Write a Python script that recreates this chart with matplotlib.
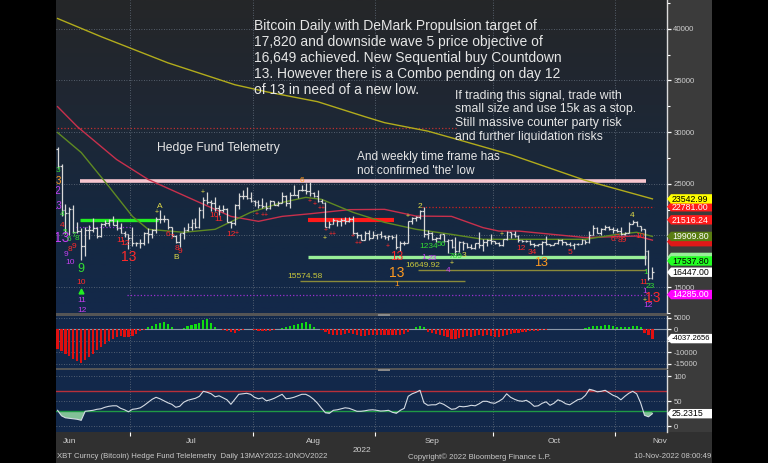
import matplotlib

matplotlib.use("Agg")

import matplotlib.pyplot as plt  # noqa: E402
import matplotlib.transforms as mtransforms  # noqa: E402
import numpy as np  # noqa: E402
import pandas as pd  # noqa: E402
from matplotlib.colors import LinearSegmentedColormap  # noqa: E402
from matplotlib.patches import Polygon, Rectangle  # noqa: E402

plt.rcParams["font.family"] = ["Liberation Sans", "DejaVu Sans"]

# ---------------- data (XBT daily, 12 Jun - 10 Nov 2022) ----------------
START = pd.Timestamp("2022-06-12")
FIRST_OPEN = 28360

highs = [
    # Jun 12-30
    28540, 26880, 23000, 22760, 22980, 21330, 20760, 20780, 20990, 21700,
    20860, 21210, 21520, 21580, 21850, 21480, 21170, 20400, 20140,
    # Jul
    20860, 19400, 19640, 20300, 20680, 20640, 21800, 22470, 21950, 21600,
    20870, 20040, 20250, 20860, 21190, 21560, 21650, 22750, 23750, 24230,
    23400, 23730, 22980, 22990, 22650, 21360, 23080, 24130, 24400, 24650, 24180,
    # Aug
    23470, 23440, 23620, 23200, 23440, 23330, 23380, 24230, 23900, 24200,
    24890, 24440, 24890, 25050, 25200, 24250, 24430, 23580, 23200, 21370,
    21680, 21530, 21650, 21800, 21800, 21860, 20340, 20140, 20390, 20500, 20450,
    # Sep
    20190, 20420, 20000, 20000, 20050, 20140, 19440, 19440, 21440, 21800,
    21840, 22480, 22790, 20540, 20330, 19880, 20180, 20120, 19640, 19620,
    19900, 19490, 19490, 19310, 19180, 19300, 20340, 19680, 19640, 20170,
    # Oct
    19460, 19400, 19700, 20450, 20360, 20440, 20050, 19600, 19540, 19520,
    19250, 19210, 19500, 19950, 19210, 19320, 19650, 19690, 19350, 19340,
    19230, 19250, 19680, 19590, 20400, 20990, 20850, 20720, 21060, 20900, 20820,
    # Nov 1-10
    20680, 20790, 20380, 21280, 21460, 21360, 20900, 20670, 18590, 16950,
]
lows = [
    26560, 21930, 20100, 20070, 20230, 20250, 17600, 17990, 19670, 20360,
    19800, 19900, 20900, 20930, 20980, 20560, 20200, 19870, 18650,
    19000, 18990, 18780, 19050, 19320, 19800, 20260, 21230, 21320, 20670,
    19930, 19250, 18920, 19670, 20400, 20500, 20760, 20770, 21680, 23000,
    22400, 22360, 21950, 22290, 21260, 20730, 21050, 22590, 23530, 23520, 23230,
    22860, 22700, 22700, 22460, 22600, 22920, 22850, 23150, 22890, 22700,
    23880, 23600, 24300, 24060, 23800, 23700, 23200, 23120, 20800, 20760,
    21080, 20910, 20940, 21140, 21320, 20110, 19800, 19520, 19600, 19550, 19800,
    19640, 19760, 19650, 19600, 19650, 18700, 18540, 19050, 19300, 21130,
    21370, 21560, 19870, 19640, 19540, 19400, 19700, 19350, 18270, 18800,
    18150, 18360, 18600, 18820, 18650, 18680, 18830, 18510, 18980, 19180,
    19160, 18950, 19000, 19560, 19760, 19870, 19330, 19330, 19330, 19080,
    18900, 19000, 18190, 19080, 18980, 19070, 19160, 19100, 19090, 18940,
    18680, 19110, 19130, 19160, 19300, 20060, 20230, 20030, 20560, 20520, 20230,
    20340, 20060, 20060, 20200, 21100, 20880, 20400, 17170, 15680, 15800,
]
closes = [
    26760, 22490, 22200, 22580, 20380, 20470, 19010, 20550, 20580, 20720,
    19970, 21080, 21230, 21500, 21030, 20730, 20250, 20100, 19780,
    19300, 19250, 19300, 20230, 20190, 20560, 21620, 21590, 21590, 20850,
    19960, 19330, 20210, 20570, 20830, 21190, 20790, 22430, 23400, 23230,
    23150, 22680, 22460, 22580, 21310, 21250, 22950, 23850, 23780, 23640, 23300,
    23280, 22990, 22820, 22620, 23310, 22950, 23180, 23810, 23160, 23950,
    23940, 24400, 24440, 24300, 24100, 23850, 23340, 23190, 20830, 21140,
    21520, 21400, 21530, 21370, 21560, 20240, 20040, 19550, 20290, 19800, 20050,
    20130, 19950, 19830, 19990, 19810, 18840, 19290, 19320, 21380, 21650,
    21830, 22400, 20180, 20240, 19700, 19800, 20120, 19420, 19540, 18880,
    18480, 19410, 19300, 18930, 18800, 19230, 19080, 19410, 19590, 19430,
    19310, 19060, 19630, 20340, 20160, 19960, 19530, 19420, 19450, 19130,
    19060, 19150, 19380, 19180, 19070, 19270, 19550, 19330, 19130, 19040,
    19160, 19210, 19570, 19330, 20080, 20770, 20290, 20590, 20820, 20630, 20490,
    20480, 20150, 20210, 21140, 21300, 20900, 20600, 18540, 15880, 16447,
]

# moving averages, read at a few points (day offset from 12 Jun, price)
ma_yellow_days = [0, 11, 28, 45, 53, 66, 78, 83, 94, 101, 115, 134, 151]
ma_yellow_vals = [41000, 39250, 36710, 34590, 33910, 32950, 31500, 30920, 30100,
                  29350, 27830, 25330, 23543]
ma_red_days = [0, 5, 15, 23, 36, 44, 51, 57, 64, 74, 83, 91, 100, 108, 112, 117, 134, 147, 151]
ma_red_vals = [32470, 30540, 27350, 25420, 23200, 21850, 21370, 21850, 22100, 22500,
               22530, 21880, 21850, 20760, 20430, 20430, 19800, 19950, 19550]
ma_olive_days = [0, 6, 13, 19, 23, 32, 40, 49, 57, 63, 67, 75, 83, 91, 100, 108, 134, 142, 147, 151]
ma_olive_vals = [29960, 28030, 24750, 21850, 20600, 20310, 20600, 22240, 23200, 23690,
                 23500, 22240, 21270, 20600, 20110, 19630, 19630, 20110, 20310, 19910]

# MACD histogram (daily)
macd_hist = [
    -8400, -9600, -10600, -11600, -12800, -13800, -14700, -13200, -12000, -10600,
    -9100, -7700, -6200, -5200, -4100, -3400, -2900, -3400, -3500, -2900,
    -1900, -900, -200,
    1000, 1500, 2200, 2900, 3200, 2300, 800, 100, 100, 600, 1400, 2000, 2200,
    2800, 3900, 4300, 2600, 1000,
    0, -300, -600, -1300, -1400, -600, -100, 300, 200, -100, -600, -800, -900,
    -800, -400, 200,
    600, 900, 1300, 1800, 2500, 2800, 3200, 2200, 900,
    100, -400, -1200, -1900, -2600, -2600, -2300, -2000, -1800, -1900, -2600,
    -2700, -2700, -2600, -2600, -2500, -2500, -2500, -2600, -2500, -2400, -2400,
    -2000, -1000,
    300, 1000, 1500, 800,
    -1200, -1500, -1900, -2300, -2900, -3400, -4000, -4300, -3800, -3400, -3000,
    -3300, -3000, -2600, -2900, -2600, -2900, -3300, -3300, -2900, -2600, -2000,
    -1800, -1500, -1200, -1200, -900, -900, -900, -300,
    -100, 0, 100, 100, 100, 100, 100, 200, 200, 300, 400,
    1000, 1300, 1500, 1600, 1700, 1700, 1500, 1000, 800, 900, 1200, 1500, 1500, 1200,
    -1500, -2500, -4037.2656,
]

# RSI (daily)
rsi = [
    32, 21, 17, 16, 15, 14, 12, 30, 31, 32, 34, 35, 38, 40, 41, 41, 36, 33, 29,
    34, 35, 37, 42, 48, 54, 58, 55, 51, 47, 44, 38, 40, 48, 52, 54, 56, 60, 70,
    68, 65, 59, 61, 57, 53, 44, 54, 64, 65, 66, 64,
    58, 55, 57, 51, 53, 56, 60, 64, 55, 56, 58, 61, 64, 64, 60, 54, 46, 36, 27,
    26, 32, 33, 35, 37, 36, 33, 30, 30, 31, 32.5, 33,
    32, 30.5, 31, 32, 28, 26, 32, 36, 60, 65, 68, 72, 47, 42, 43, 43, 47, 44, 39,
    34, 35, 40, 39, 40, 42, 41, 45, 50, 50, 47,
    46, 50, 55, 65, 58, 54, 51, 50, 52, 47, 40, 41, 46, 49, 42, 46, 53, 50, 45,
    43, 48, 53, 55, 62, 74, 72, 69, 70, 72, 67, 62,
    59, 53, 60, 66, 70, 65, 47, 22, 19, 25.2315,
]

# horizontal levels: (price, first day, last day, colour, width, style)
levels = [
    (25230, 6, 149, "#f8c6cf", 2.6, "-"),
    (21460, 6, 25, "#22ee22", 2.4, "-"),
    (21516.24, 64, 85, "#ff1a1a", 3.0, "-"),
    (17880, 64, 149, "#98ee98", 2.4, "-"),
    (15574.58, 62, 103, "#8a8a3a", 1.0, "-"),
    (16649.92, 92, 149, "#8a8a3a", 1.0, "-"),
    (22781.00, 93, 151, "#d02020", 0.9, ":"),
    (30440, -0.4, 101, "#c03030", 0.9, ":"),
    (14285.00, 18, 151.5, "#9b30d0", 0.9, ":"),
    (20790, 5, 18.5, "#9b30d0", 0.9, ":"),
]

# right-hand value tags: (value, face colour, text, text colour)
price_tags = [
    (17880, "#98ee98", "", "black"),
    (19400, "#e01818", "", "white"),
    (22781.00, "#ff1a1a", "22781.00", "white"),
    (23542.99, "#ffff00", "23542.99", "black"),
    (21516.24, "#ff1a1a", "21516.24", "white"),
    (19909.80, "#5a7d12", "19909.80", "white"),
    (17537.80, "#22ff22", "17537.80", "black"),
    (16447.00, "#ffffff", "16447.00", "black"),
    (14285.00, "#ff00ff", "14285.00", "white"),
]

R, G, P, O, Y = "#ff2a2a", "#33dd33", "#c43ff0", "#ff9a20", "#e2dc48"
# DeMark count labels: (day offset, price, text, colour, size)
td_labels = [
    (0.1, 26290, "3", G, 6), (0.1, 25230, "3", O, 7), (-0.4, 24260, "12", P, 7),
    (-0.2, 22820, "13", P, 7), (1.1, 22040, "4", G, 6), (1.1, 20980, "4", R, 6),
    (1.9, 20310, "5", G, 6), (1.1, 19730, "13", P, 10), (2.9, 19630, "6", G, 6),
    (4.2, 20020, "7", G, 6), (4.9, 19730, "8", G, 6), (3.2, 18670, "8", R, 6),
    (4.2, 18960, "9", R, 6), (2.1, 18180, "9", P, 6), (3.2, 17410, "10", P, 6),
    (6.0, 16740, "9", G, 9), (6.0, 15480, "10", R, 6), (6.2, 13750, "11", P, 6),
    (6.2, 12700, "12", P, 6), (26.0, 22820, "A", Y, 6), (25.2, 22240, "+", Y, 5),
    (16.1, 19540, "11", R, 6), (17.1, 19250, "12", R, 6), (18.1, 17900, "13", R, 10),
    (28.0, 20110, "6", R, 6), (29.0, 19830, "7", R, 6), (30.3, 18760, "8", R, 6),
    (31.1, 18470, "9", R, 6), (30.0, 17900, "B", Y, 6), (39.7, 21950, "10", R, 6),
    (41.0, 21560, "11", R, 6), (44.0, 20110, "12", R, 6), (45.4, 20200, "+", R, 5),
    (36.9, 24170, "+", Y, 5), (50.6, 22040, "+", R, 5), (52.6, 21900, "++", R, 5),
    (62.0, 25330, "6", O, 6), (64.0, 23300, "+", R, 5), (65.3, 23010, "+", R, 5),
    (67.0, 22620, "++", R, 5), (68.1, 20500, "+", R, 5), (67.9, 19730, "+", Y, 5),
    (69.9, 20110, "++", R, 5), (75.0, 19920, "+", R, 5), (76.5, 19250, "++", R, 5),
    (83.9, 18960, "+", R, 5), (86.1, 17900, "13", R, 8.5), (86.1, 16350, "13", O, 10),
    (86.1, 15290, "1", O, 6), (92.0, 22820, "2", Y, 6), (88.9, 21850, "+", Y, 5),
    (94.2, 18960, "1234", G, 6), (97.4, 19150, "56", G, 6), (93.0, 17900, "1", P, 6),
    (95.0, 17800, "23", P, 6), (101.0, 17990, "789", G, 6), (103.2, 18100, "3", Y, 6),
    (100.1, 17320, "+", Y, 5), (99.1, 16640, "4", P, 6), (112.8, 20110, "+", Y, 5),
    (117.6, 18760, "12", R, 6), (120.5, 18380, "34", R, 6), (122.7, 17320, "13", O, 9),
    (130.0, 18380, "5", R, 6), (141.0, 19630, "6", R, 6), (141.9, 19830, "7", R, 6),
    (143.3, 19530, "89", R, 6), (145.8, 21950, "4", Y, 6), (147.8, 19950, "10", R, 6),
    (149.3, 16450, "1", G, 6), (148.8, 15450, "11", R, 6), (150.4, 15070, "23", G, 6),
    (149.0, 14550, "1", P, 6), (151.0, 13910, "13", R, 10), (149.0, 13680, "+", Y, 5),
    (149.9, 13200, "12", P, 6),
]

month_names = ["Jun", "Jul", "Aug", "Sep", "Oct", "Nov"]
month_label_dates = ["2022-06-15", "2022-07-16", "2022-08-16", "2022-09-15",
                     "2022-10-16", "2022-11-12"]

# axis ticks; labels hidden under the value tags in the original are left blank
price_ticks = [15000, 20000, 25000, 30000, 35000, 40000]
price_hidden = [20000]
macd_ticks = [5000, 0, -5000, -10000, -15000]
macd_hidden = [-5000]
rsi_ticks = [0, 50, 100]

# ---------------- layout ----------------
W, H = 768, 463
BAR = "#d9d9d9"
GRID = "#66717f"
TICK_TXT = "#cfcfcf"


def fig_box(x0, y0, x1, y1):
    return [x0 / W, 1 - y1 / H, (x1 - x0) / W, (y1 - y0) / H]


fig = plt.figure(figsize=(W / 100, H / 100), dpi=100, facecolor="black")
for box, col in [((667, 0, 712, 463), "#3b3b3b"), ((56, 432, 712, 463), "#303030"),
                 ((56, 313, 667, 316), "#555555"), ((56, 368, 667, 370), "#555555")]:
    x, y, w, h = fig_box(*box)
    fig.add_artist(Rectangle((x, y), w, h, transform=fig.transFigure,
                             facecolor=col, edgecolor="none", zorder=-1))
for y0 in (313, 368):
    x, y, w, h = fig_box(378, y0 + 0.5, 390, y0 + 2.5)
    fig.add_artist(Rectangle((x, y), w, h, transform=fig.transFigure,
                             facecolor="#8a8a8a", edgecolor="none", zorder=5))

ax = fig.add_axes(fig_box(56, 0, 667, 313))
ax_macd = fig.add_axes(fig_box(56, 316, 667, 368))
ax_rsi = fig.add_axes(fig_box(56, 370, 667, 432))

n = len(closes)
days = np.arange(n)
dates = pd.date_range(START, periods=n, freq="D")
month_starts = [i - 0.5 for i, d in enumerate(dates) if d.day == 1]
label_pos = [(pd.Timestamp(d) - START).days for d in month_label_dates]

bg = LinearSegmentedColormap.from_list("bg", ["#13284a", "#16283f", "#1f2733", "#252628"])
ax.imshow(np.linspace(0, 1, 256).reshape(-1, 1), extent=[0, 1, 0, 1], origin="lower",
          transform=ax.transAxes, cmap=bg, aspect="auto", zorder=0)
for a in (ax_macd, ax_rsi):
    a.set_facecolor("#12284a")

for a in (ax, ax_macd, ax_rsi):
    for s in ("top", "left", "bottom"):
        a.spines[s].set_visible(False)
    a.spines["right"].set_color("#dcdcdc")
    a.spines["right"].set_linewidth(1.0)
    a.yaxis.tick_right()
    a.tick_params(axis="y", colors="white", labelcolor=TICK_TXT, labelsize=5.6,
                  length=3, width=0.9, pad=1.5)
    a.tick_params(axis="x", bottom=False, labelbottom=False)
    for m in month_starts:
        a.axvline(m, color=GRID, lw=0.6, ls=(0, (1, 2)), zorder=1)
    a.set_xlim(-0.4, 154.7)

# ---------------- price panel ----------------
for yv in price_ticks:
    ax.axhline(yv, color=GRID, lw=0.6, ls=(0, (1, 2)), zorder=1)

ax.plot(ma_yellow_days, ma_yellow_vals, color="#b2ac1c", lw=1.0, zorder=3)
ax.plot(ma_red_days, ma_red_vals, color="#c8304c", lw=1.0, zorder=3)
ax.plot(ma_olive_days, ma_olive_vals, color="#5f8a22", lw=1.0, zorder=3)

for price, d0, d1, col, lw, ls in levels:
    ax.hlines(price, d0 - 0.4, d1 + 0.4, color=col, lw=lw, ls=ls, zorder=2)

opens = [FIRST_OPEN] + closes[:-1]
ax.vlines(days, lows, highs, color=BAR, lw=0.9, zorder=4)
ax.hlines(opens, days - 0.45, days, color=BAR, lw=0.9, zorder=4)
ax.hlines(closes, days, days + 0.45, color=BAR, lw=0.9, zorder=4)

for d, p, t, c, s in td_labels:
    ax.text(d, p, t, color=c, fontsize=s, ha="center", va="center", zorder=5,
            clip_on=True)
ax.plot([6], [14610], marker="^", color="#22ee22", ms=3.5, zorder=5)
ax.text(58.2, 15990, "15574.58", color="#c9c83c", fontsize=6, ha="left", va="center", zorder=5)
ax.text(88.2, 17060, "16649.92", color="#c9c83c", fontsize=6, ha="left", va="center", zorder=5)

txt = "#e6e6e6"
ax.text(0.324, 0.94,
        "Bitcoin Daily with DeMark Propulsion target of\n"
        "17,820 and downside wave 5 price objective of\n"
        "16,649 achieved. New Sequential buy Countdown\n"
        "13. However there is a Combo pending on day 12\n"
        "of 13 in need of a new low.",
        transform=ax.transAxes, color=txt, fontsize=10.0, linespacing=1.18,
        ha="left", va="top", zorder=6)
ax.text(0.653, 0.713,
        "If trading this signal, trade with\n"
        "small size and use 15k as a stop.\n"
        "Still massive counter party risk\n"
        "and further liquidation risks",
        transform=ax.transAxes, color=txt, fontsize=8.8, linespacing=1.18,
        ha="left", va="top", zorder=6)
ax.text(0.165, 0.527, "Hedge Fund Telemetry", transform=ax.transAxes, color=txt,
        fontsize=8.7, ha="left", va="center", zorder=6)
ax.text(0.4926, 0.519, "And weekly time frame has\nnot confirmed 'the' low",
        transform=ax.transAxes, color=txt, fontsize=8.6, linespacing=1.26,
        ha="left", va="top", zorder=6)

ax.set_ylim(12590, 42790)
ax.set_yticks(price_ticks)
ax.set_yticklabels(["" if v in price_hidden else str(v) for v in price_ticks])
ax.set_yticks(range(12500, 45000, 2500), minor=True)
ax.tick_params(axis="y", which="minor", colors="white", length=2, width=0.8)

# ---------------- MACD panel ----------------
macd = np.array(macd_hist)
ax_macd.bar(days, macd, width=0.55, color=np.where(macd >= 0, "#11dd11", "#e01010"),
            zorder=3)
ax_macd.axhline(0, color="#8c98a8", lw=0.8, zorder=2)
for yv in macd_ticks:
    if yv:
        ax_macd.axhline(yv, color=GRID, lw=0.6, ls=(0, (1, 2)), zorder=1)
ax_macd.set_ylim(-16830, 5790)
ax_macd.set_yticks(macd_ticks)
ax_macd.set_yticklabels(["" if v in macd_hidden else str(v) for v in macd_ticks])

# ---------------- RSI panel ----------------
rs = np.array(rsi, dtype=float)
ax_rsi.fill_between(days, rs, 30, where=rs < 30, interpolate=True, color="#8fd3a0",
                    alpha=0.9, lw=0, zorder=2)
ax_rsi.fill_between(days, rs, 70, where=rs > 70, interpolate=True, color="#e07a7a",
                    alpha=0.8, lw=0, zorder=2)
ax_rsi.axhline(70, color="#b8303a", lw=1.0, zorder=2)
ax_rsi.axhline(30, color="#1f9a45", lw=1.0, zorder=2)
ax_rsi.plot(days, rs, color="#d4dbe4", lw=0.8, zorder=3)
for yv in rsi_ticks:
    ax_rsi.axhline(yv, color=GRID, lw=0.6, ls=(0, (1, 2)), zorder=1)
ax_rsi.set_ylim(-11.4, 112.6)
ax_rsi.set_yticks(rsi_ticks)
ax_rsi.set_yticklabels([str(v) for v in rsi_ticks])

ax_rsi.tick_params(axis="x", which="major", bottom=True, colors="white", length=3,
                   width=0.8, direction="out", labelbottom=False)
ax_rsi.set_xticks(month_starts)
ax_rsi.set_xticks(label_pos, minor=True)
ax_rsi.set_xticklabels(month_names, minor=True)
ax_rsi.tick_params(axis="x", which="minor", bottom=False, labelbottom=True,
                   labelsize=6, labelcolor=TICK_TXT, pad=2.5)
ax_rsi.set_xlabel("2022", fontsize=6, color=TICK_TXT, labelpad=1.5)


# ---------------- value tags on the right axis ----------------
def add_tag(axis, value, face, text, text_color, size=6.3):
    anchor = mtransforms.blended_transform_factory(axis.transAxes, axis.transData)
    trans = fig.dpi_scale_trans + mtransforms.ScaledTranslation(1.0, value, anchor)
    shape = [(0, 0), (0.04, 0.047), (0.45, 0.047), (0.45, -0.047), (0.04, -0.047)]
    fig.add_artist(Polygon(shape, closed=True, transform=trans, facecolor=face,
                           edgecolor="none", zorder=6))
    if text:
        fig.text(0.05, -0.003, text, transform=trans, color=text_color, fontsize=size,
                 ha="left", va="center", zorder=7)


for value, face, text, tc in price_tags:
    add_tag(ax, value, face, text, tc)
add_tag(ax_macd, macd_hist[-1], "#ffffff", f"{macd_hist[-1]:.4f}", "black", size=5.5)
add_tag(ax_rsi, rsi[-1], "#ffffff", f"{rsi[-1]:.4f}", "black")

# ---------------- footer ----------------
foot_y = 1 - 457 / H
fig.text(57 / W, foot_y, "XBT Curncy (Bitcoin) Hedge Fund Telelemetry  Daily 13MAY2022-10NOV2022",
         color="#c8c8c8", fontsize=5.6, ha="left", va="center")
fig.text(479 / W, foot_y, "Copyright\u00a9 2022 Bloomberg Finance L.P.", color="#c8c8c8",
         fontsize=5.6, ha="center", va="center")
fig.text(711 / W, foot_y, "10-Nov-2022 08:00:49", color="#c8c8c8", fontsize=5.6,
         ha="right", va="center")

fig.savefig("out.png", dpi=100, facecolor="black")
plt.close(fig)
